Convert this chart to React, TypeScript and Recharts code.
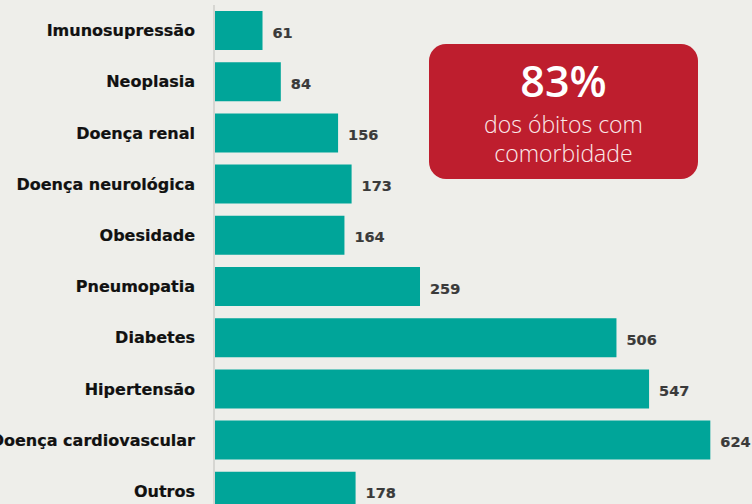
import React from "react";
import { BarChart, Bar, XAxis, YAxis, LabelList } from "recharts";

const categories = [
  "Imunosupressão",
  "Neoplasia",
  "Doença renal",
  "Doença neurológica",
  "Obesidade",
  "Pneumopatia",
  "Diabetes",
  "Hipertensão",
  "Doença cardiovascular",
  "Outros",
];
const values = [61, 84, 156, 173, 164, 259, 506, 547, 624, 178];
const highlightValue = "83%";
const highlightLines = ["dos óbitos com", "comorbidade"];

const data = categories.map((c, i) => ({ name: c, value: values[i] }));

export default function App() {
  return (
    <div
      style={{
        position: "absolute",
        left: 0,
        top: 0,
        width: 752,
        height: 504,
        overflow: "hidden",
        background: "#eeeeea",
      }}
    >
      <BarChart
        width={752}
        height={530}
        data={data}
        layout="vertical"
        margin={{ top: 5, right: 21, bottom: 13, left: 0 }}
      >
        <XAxis type="number" domain={[0, 650]} hide />
        <YAxis
          type="category"
          dataKey="name"
          width={214}
          tickSize={0}
          tickMargin={19}
          axisLine={{ stroke: "#d6d6d2", strokeWidth: 2 }}
          tickLine={false}
          interval={0}
          tick={{
            fill: "#111111",
            stroke: "#111111",
            strokeWidth: 0.2,
            fontFamily: "DejaVu Sans",
            fontWeight: 700,
            fontSize: 16,
          }}
        />
        <Bar dataKey="value" fill="#00a599" barSize={39} isAnimationActive={false}>
          <LabelList
            dataKey="value"
            position="right"
            offset={10}
            style={{
              fill: "#3a3a3a",
              stroke: "#3a3a3a",
              strokeWidth: 0.2,
              fontFamily: "DejaVu Sans",
              fontWeight: 700,
              fontSize: 14.5,
            }}
            dy={2}
          />
        </Bar>
      </BarChart>
      <div
        style={{
          position: "absolute",
          left: 429,
          top: 44,
          width: 269,
          height: 135,
          borderRadius: 17,
          background: "#be1e2e",
          color: "#ffffff",
          textAlign: "center",
          fontFamily: "'Open Sans', sans-serif",
        }}
      >
        <div style={{ fontSize: 43, fontWeight: 600, lineHeight: "46px", marginTop: 14 }}>
          {highlightValue}
        </div>
        <div style={{ fontSize: 23, fontWeight: 300, lineHeight: "29px", marginTop: 6, color: "#fbe9ea" }}>
          {highlightLines[0]}
          <br />
          {highlightLines[1]}
        </div>
      </div>
    </div>
  );
}
